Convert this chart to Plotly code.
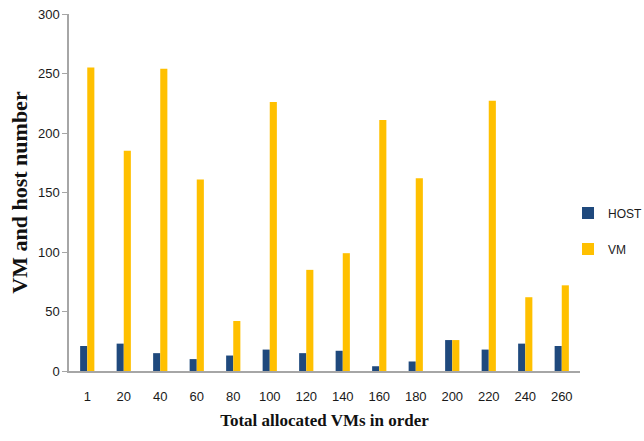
import plotly.graph_objects as go

# Allocation order checkpoints (x categories)
categories = ["1", "20", "40", "60", "80", "100", "120", "140",
              "160", "180", "200", "220", "240", "260"]

# Number of active hosts at each checkpoint
host_counts = [21, 23, 15, 10, 13, 18, 15, 17, 4, 8, 26, 18, 23, 21]

# Number of VMs at each checkpoint
vm_counts = [255, 185, 254, 161, 42, 226, 85, 99, 211, 162, 26, 227, 62, 72]

y_ticks = [0, 50, 100, 150, 200, 250, 300]

HOST_COLOR = "#1F497D"
VM_COLOR = "#FFC000"
AXIS_GRAY = "#A6A6A6"
TICK_FONT = dict(family="Liberation Sans Narrow, Arial Narrow, Liberation Sans, sans-serif",
                 size=13, color="#1a1a1a")
TITLE_FONT = "Liberation Serif, Times New Roman, serif"

fig = go.Figure()
fig.add_trace(go.Bar(
    x=categories, y=host_counts, name="HOST",
    marker=dict(color=HOST_COLOR, line=dict(width=0)),
    legendgroup="host",
))
fig.add_trace(go.Bar(
    x=categories, y=vm_counts, name="VM",
    marker=dict(color=VM_COLOR, line=dict(width=0)),
    legendgroup="vm",
))

fig.update_layout(
    width=644, height=441,
    margin=dict(l=69, r=64, t=14, b=70, autoexpand=False),
    paper_bgcolor="white", plot_bgcolor="white",
    barmode="group", bargap=0.61, bargroupgap=0.0,
    font=TICK_FONT,
    legend=dict(
        xref="container", yref="container",
        x=0.882, xanchor="left", y=0.476, yanchor="middle",
        font=dict(family=TICK_FONT["family"], size=12, color="#1a1a1a"),
        tracegroupgap=17, bgcolor="rgba(0,0,0,0)",
        itemwidth=30,
    ),
    showlegend=True,
)

fig.update_xaxes(
    type="category",
    showline=True, linecolor=AXIS_GRAY, linewidth=2,
    ticks="", showgrid=False, zeroline=False,
    tickfont=TICK_FONT, ticklabelstandoff=12,
    title=dict(text="<b>Total allocated VMs in order</b>",
               font=dict(family=TITLE_FONT, size=17, color="#111"),
               standoff=12),
)
fig.update_yaxes(
    range=[0, 300], tickvals=y_ticks,
    showline=True, linecolor=AXIS_GRAY, linewidth=1.5,
    ticks="outside", ticklen=5, tickcolor=AXIS_GRAY, tickwidth=1,
    showgrid=False, zeroline=False,
    tickfont=TICK_FONT,
    title=dict(text="<b>VM and host number</b>",
               font=dict(family=TITLE_FONT, size=22, color="#111"),
               standoff=4),
)

fig.write_html("out.html")
